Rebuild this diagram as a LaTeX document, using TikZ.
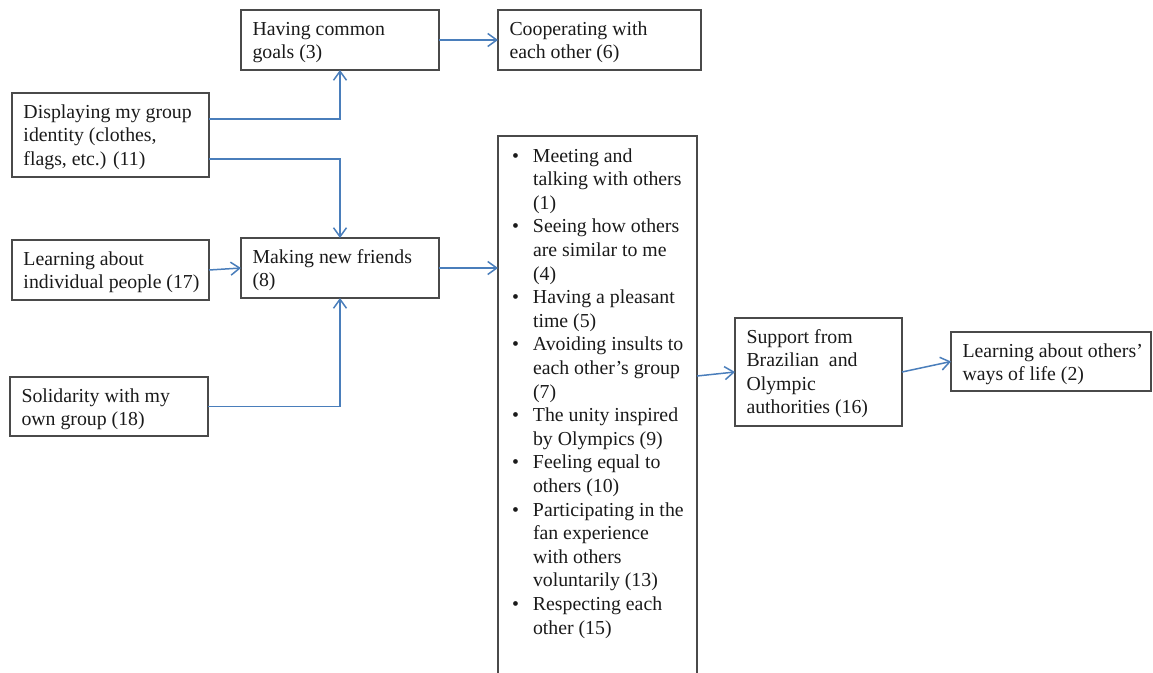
\documentclass[tikz,border=0pt]{standalone}
\usepackage{fontspec}
\setmainfont{Liberation Serif}
\usetikzlibrary{arrows.meta}
\definecolor{linkblue}{HTML}{4A7EBB}
\definecolor{edgegray}{HTML}{4A4A4A}
\definecolor{inkblack}{HTML}{1A1A1A}
% fixed-size box content: width, height, rows of text
\newcommand\boxtext[3]{\parbox[t][#2][t]{#1}{\hspace*{11.5pt}\begin{tabular}[t]{@{}l@{}}\rule{0pt}{25pt}#3\end{tabular}}}
\newcommand\bul{\makebox[21pt][l]{\textbullet}}
\begin{document}
\begin{tikzpicture}[x=1pt,y=-1pt,
  box/.style={draw=edgegray,line width=1.2pt,anchor=north west,inner sep=0pt,outer sep=0pt,
    text=inkblack,font=\fontsize{19.8}{23.6}\selectfont},
  link/.style={draw=linkblue,line width=1.5pt,-{Straight Barb[length=9pt,width=13pt]}}]
\useasboundingbox (0,0) rectangle (1153,672);

\node[box] (goals) at (241,10) {\boxtext{198pt}{60pt}{Having common\\goals (3)}};
\node[box] (coop) at (498,10) {\boxtext{203pt}{60pt}{Cooperating with\\each other (6)}};
\node[box] (disp) at (12,93) {\boxtext{197pt}{84pt}{Displaying my group\\identity (clothes,\\flags, etc.) (11)}};
\node[box] (learn) at (12,240) {\boxtext{197pt}{60pt}{Learning about\\individual people (17)}};
\node[box] (friends) at (241,238) {\boxtext{198pt}{60pt}{Making new friends\\(8)}};
\node[box] (solid) at (10,377) {\boxtext{198pt}{59pt}{Solidarity with my\\own group (18)}};
\node[box] (support) at (735,318) {\boxtext{167pt}{108pt}{Support from\\Brazilian\ \ and\\Olympic\\authorities (16)}};
\node[box] (others) at (951,332) {\boxtext{200pt}{59pt}{Learning about others’\\ways of life (2)}};

\node[box] (list) at (498,136) {\parbox[t][560pt][t]{199pt}{%
  \begin{tabular}[t]{@{\hspace*{14pt}}l@{}l@{}}
  \rule{0pt}{26pt}\bul & Meeting and\\
   & talking with others\\
   & (1)\\
  \bul & Seeing how others\\
   & are similar to me\\
   & (4)\\
  \bul & Having a pleasant\\
   & time (5)\\
  \bul & Avoiding insults to\\
   & each other’s group\\
   & (7)\\
  \bul & The unity inspired\\
   & by Olympics (9)\\
  \bul & Feeling equal to\\
   & others (10)\\
  \bul & Participating in the\\
   & fan experience\\
   & with others\\
   & voluntarily (13)\\
  \bul & Respecting each\\
   & other (15)
  \end{tabular}}};

\draw[link] (goals.east) -- (coop.west);
\draw[link] ([yshift=16pt]disp.east) -| (goals.south);
\draw[link] ([yshift=-24pt]disp.east) -| (friends.north);
\draw[link] (learn.east) -- (friends.west);
\draw[link] (solid.east) -| (friends.south);
\draw[link] (friends.east) -- (friends.east -| list.west);
\draw[link] ([yshift=40pt]list.east) -- (support.west);
\draw[link] (support.east) -- (others.west);
\end{tikzpicture}
\end{document}
